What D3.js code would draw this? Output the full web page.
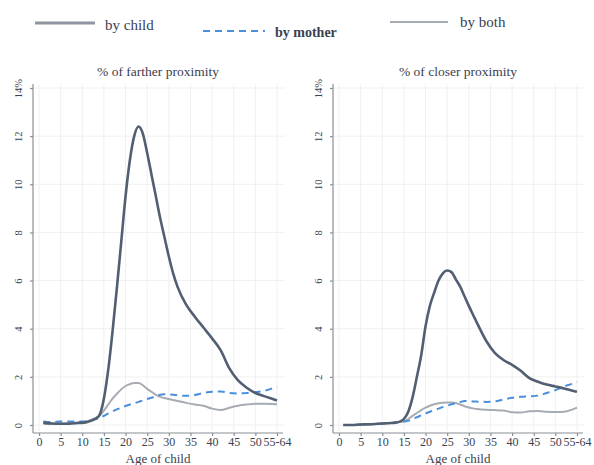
<!DOCTYPE html>
<html>
<head>
<meta charset="utf-8">
<script src="https://cdn.jsdelivr.net/npm/d3@7"></script>
<style>
  body { margin: 0; background: #fff; }
  svg, svg text { font-family: "Liberation Serif", "DejaVu Serif", serif; }
</style>
</head>
<body>
<svg id="chart" width="594" height="465"></svg>
<script>
/* ============================
   Data
============================ */

const ages = [1, 3, 5, 7, 9, 11, 12, 13, 14, 15, 16, 17, 18, 19, 20, 21, 22, 23, 24, 25,
  26, 27, 28, 29, 30, 31, 32, 34, 36, 38, 40, 42, 44, 46, 48, 50, 52, 54, 55];

const xTicks = [0, 5, 10, 15, 20, 25, 30, 35, 40, 45, 50, 55];
const xTickLabels = ["0", "5", "10", "15", "20", "25", "30", "35", "40", "45", "50", "55-64"];
const yTicks = [0, 2, 4, 6, 8, 10, 12, 14];

// % of farther proximity
const fartherChild = [0.1, 0.06, 0.05, 0.05, 0.08, 0.12, 0.18, 0.25, 0.42, 1.1, 2.3, 3.9, 5.7, 7.6, 9.5,
  11.0, 12.0, 12.4, 12.1, 11.3, 10.4, 9.5, 8.6, 7.8, 7.0, 6.3, 5.75, 5.0, 4.5, 4.05, 3.6, 3.1, 2.35,
  1.85, 1.55, 1.33, 1.2, 1.08, 1.02];
const fartherMother = [0.15, 0.12, 0.15, 0.15, 0.15, 0.15, 0.2, 0.25, 0.28, 0.38, 0.48, 0.57, 0.65,
  0.72, 0.79, 0.85, 0.9, 0.96, 1.02, 1.08, 1.13, 1.2, 1.26, 1.28, 1.27, 1.26, 1.24, 1.21, 1.25, 1.33,
  1.38, 1.39, 1.33, 1.31, 1.33, 1.36, 1.42, 1.53, 1.6];
const fartherBoth = [0.05, 0.05, 0.05, 0.08, 0.1, 0.15, 0.2, 0.28, 0.38, 0.6, 0.85, 1.1, 1.3, 1.48,
  1.62, 1.7, 1.75, 1.75, 1.65, 1.5, 1.38, 1.25, 1.17, 1.12, 1.08, 1.04, 1.0, 0.92, 0.85, 0.8, 0.68,
  0.62, 0.72, 0.8, 0.85, 0.88, 0.88, 0.87, 0.86];

// % of closer proximity
const closerChild = [0.0, 0.0, 0.02, 0.03, 0.05, 0.07, 0.08, 0.1, 0.14, 0.25, 0.55, 1.15, 2.0, 2.9,
  4.1, 4.95, 5.5, 6.0, 6.3, 6.42, 6.35, 6.05, 5.75, 5.35, 4.95, 4.57, 4.2, 3.5, 3.0, 2.7, 2.5, 2.25,
  1.95, 1.8, 1.68, 1.6, 1.52, 1.42, 1.38];
const closerMother = [0.0, 0.0, 0.02, 0.03, 0.05, 0.07, 0.08, 0.1, 0.12, 0.14, 0.17, 0.25, 0.32, 0.4,
  0.48, 0.55, 0.62, 0.68, 0.75, 0.8, 0.86, 0.9, 0.95, 1.0, 1.0, 0.98, 0.97, 0.96, 0.98, 1.06, 1.13,
  1.17, 1.19, 1.22, 1.33, 1.45, 1.6, 1.72, 1.79];
const closerBoth = [0.0, 0.0, 0.02, 0.03, 0.05, 0.07, 0.08, 0.1, 0.12, 0.15, 0.25, 0.38, 0.5, 0.62,
  0.72, 0.8, 0.86, 0.9, 0.92, 0.93, 0.93, 0.91, 0.85, 0.78, 0.73, 0.69, 0.66, 0.63, 0.62, 0.6, 0.53,
  0.52, 0.57, 0.58, 0.55, 0.54, 0.55, 0.65, 0.72];

const seriesStyle = {
  child:  { label: "by child",  color: "#525f72", width: 2.6, dash: null },
  mother: { label: "by mother", color: "#4a8fdc", width: 2,   dash: "7,5" },
  both:   { label: "by both",   color: "#a7abb2", width: 2,   dash: null }
};

/* ============================
   Drawing
============================ */

const svg = d3.select("#chart");

function drawPanel(left, title, series) {
  const x = d3.scaleLinear().domain([0, 55]).range([left + 6, left + 244]);
  const y = d3.scaleLinear().domain([0, 14]).range([425, 88]);
  const g = svg.append("g");

  // grid
  g.selectAll("line.vgrid").data(xTicks).enter().append("line")
    .attr("x1", d => x(d)).attr("x2", d => x(d))
    .attr("y1", y(14) - 4).attr("y2", 431)
    .attr("stroke", "#f0f0f2").attr("stroke-width", 1);
  g.selectAll("line.hgrid").data(yTicks).enter().append("line")
    .attr("x1", left).attr("x2", left + 252)
    .attr("y1", d => y(d)).attr("y2", d => y(d))
    .attr("stroke", "#f0f0f2").attr("stroke-width", 1);

  // axes
  const xAxis = d3.axisBottom(x).tickValues(xTicks)
    .tickFormat((d, i) => xTickLabels[i]).tickSize(3).tickPadding(2).tickSizeOuter(0);
  const gx = g.append("g").attr("transform", "translate(0,433)").call(xAxis);
  gx.select(".domain").attr("d", `M${left},0H${left + 250}`);

  const yAxis = d3.axisLeft(y).tickValues(yTicks)
    .tickFormat(d => d === 14 ? "14%" : d).tickSize(3).tickSizeOuter(0);
  const gy = g.append("g").attr("transform", `translate(${left},0)`).call(yAxis);
  gy.select(".domain").attr("d", `M0,${y(14) - 4}V433`);

  [gx, gy].forEach(a => {
    a.attr("font-family", null);
    a.selectAll(".domain, .tick line").attr("stroke", "#8a8f96").attr("stroke-width", 1.2);
    a.selectAll("text").attr("fill", "#3a4150").style("font-size", "12px");
  });
  gx.selectAll("text").attr("dy", "0.7em");
  gy.selectAll(".tick text")
    .attr("transform", "rotate(-90)")
    .attr("x", 0).attr("y", -11)
    .attr("dy", 0)
    .attr("text-anchor", "middle")
    .style("font-size", "10.5px");

  // title & x label
  g.append("text").attr("x", (x(0) + x(55)) / 2).attr("y", 76)
    .attr("text-anchor", "middle").attr("fill", "#3a4150")
    .style("font-size", "13.5px").text(title);
  g.append("text").attr("x", (x(0) + x(55)) / 2).attr("y", 463)
    .attr("text-anchor", "middle").attr("fill", "#3a4150")
    .style("font-size", "13px").text("Age of child");

  // lines
  const line = d3.line()
    .x((d, i) => x(ages[i]))
    .y(d => y(d))
    .curve(d3.curveMonotoneX);

  ["both", "mother", "child"].forEach(k => {
    const s = seriesStyle[k];
    g.append("path")
      .datum(series[k])
      .attr("d", line)
      .attr("fill", "none")
      .attr("stroke", s.color)
      .attr("stroke-width", s.width)
      .attr("stroke-dasharray", s.dash)
      .attr("stroke-linejoin", "round");
  });
}

drawPanel(33, "% of farther proximity", { child: fartherChild, mother: fartherMother, both: fartherBoth });
drawPanel(333, "% of closer proximity", { child: closerChild, mother: closerMother, both: closerBoth });

/* ============================
   Legend
============================ */

const legendItems = [
  { key: "child",  x1: 35,  x2: 95,  ly: 23, tx: 105, ty: 30, size: "15px" },
  { key: "mother", x1: 203, x2: 265, ly: 31, tx: 275, ty: 37, size: "14px" },
  { key: "both",   x1: 390, x2: 448, ly: 22, tx: 460, ty: 27, size: "15px" }
];

const legend = svg.append("g");
legendItems.forEach(it => {
  const s = seriesStyle[it.key];
  legend.append("line")
    .attr("x1", it.x1).attr("x2", it.x2).attr("y1", it.ly).attr("y2", it.ly)
    .attr("stroke", it.key === "child" ? "#9096a0" : s.color)
    .attr("stroke-width", it.key === "child" ? 3 : 2)
    .attr("stroke-dasharray", s.dash);
  legend.append("text")
    .attr("x", it.tx).attr("y", it.ty)
    .attr("fill", "#3a4150")
    .style("font-size", it.size)
    .style("font-weight", it.key === "mother" ? "bold" : "normal")
    .text(s.label);
});
</script>
</body>
</html>
